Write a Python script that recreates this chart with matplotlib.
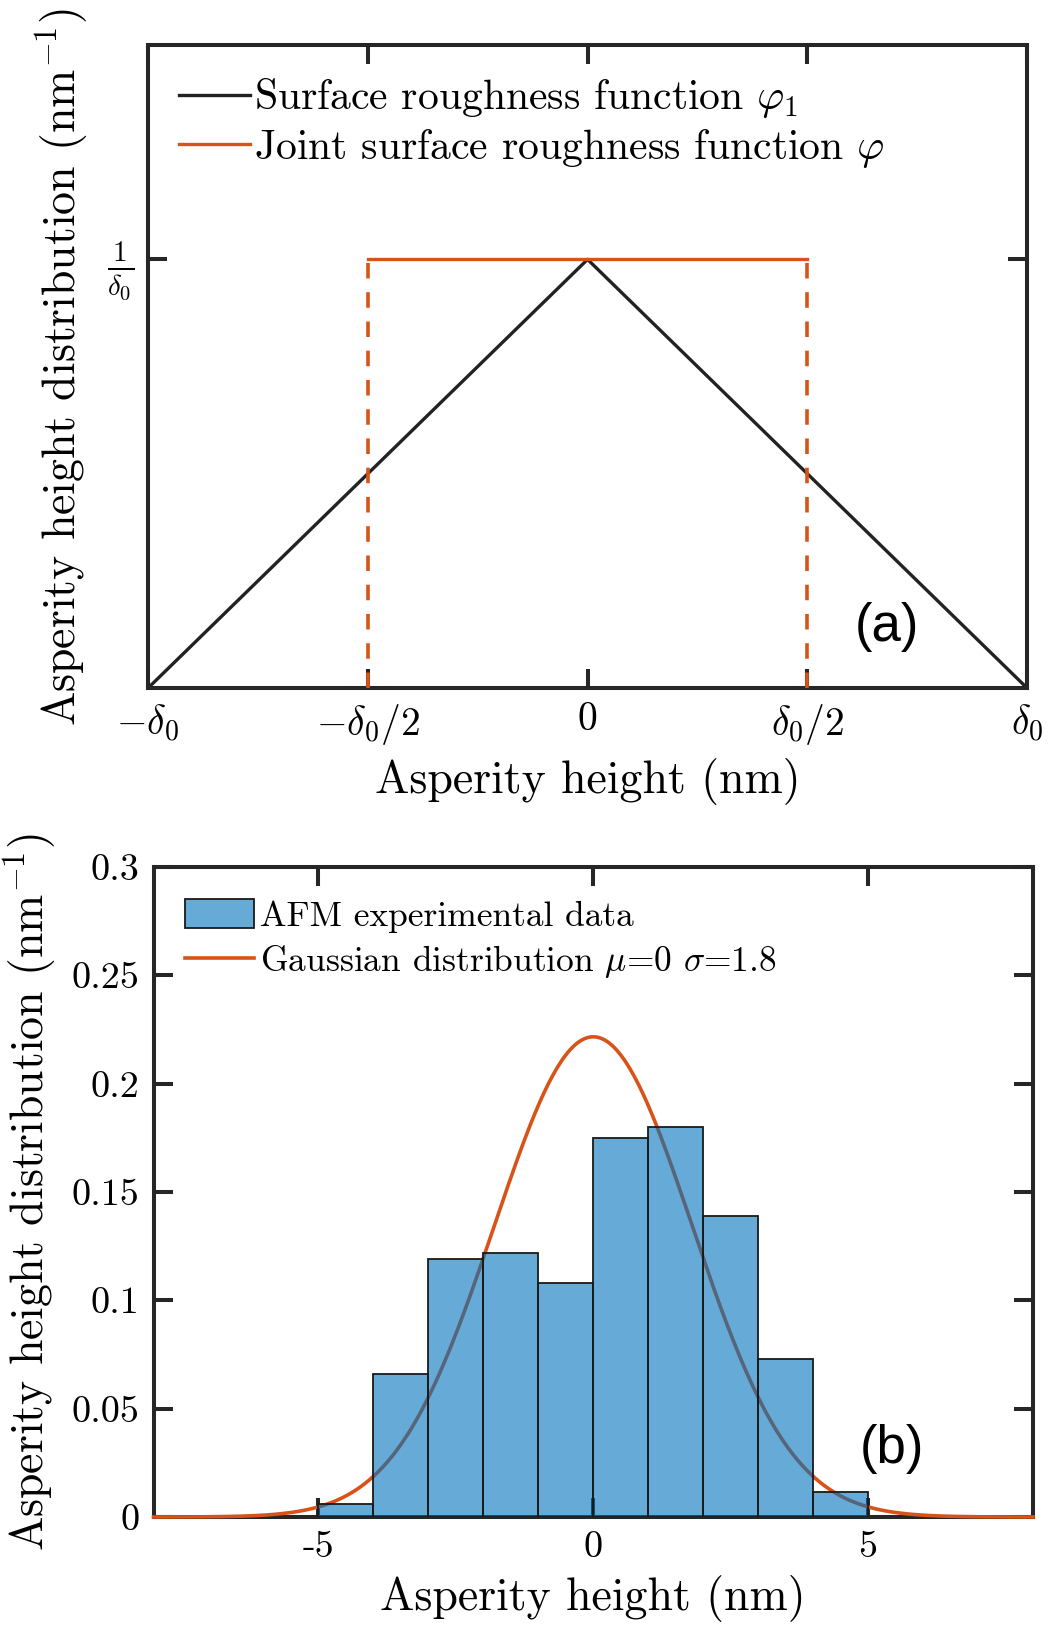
import numpy as np
import matplotlib
matplotlib.use("Agg")
import matplotlib.pyplot as plt

# panel (a): roughness functions, x in units of delta_0, y in units of 1/delta_0
tri_x = [-1.0, 0.0, 1.0]
tri_y = [0.0, 1.0, 0.0]
joint_x = [-0.5, 0.5]
joint_top = 1.0
a_xticks = [-1.0, -0.5, 0.0, 0.5, 1.0]
a_xticklabels = [r'$-\delta_0$', r'$-\delta_0/2$', '0', r'$\delta_0/2$', r'$\delta_0$']

# panel (b): AFM histogram + gaussian fit
bin_edges = [-5, -4, -3, -2, -1, 0, 1, 2, 3, 4, 5]
bin_heights = [0.006, 0.066, 0.119, 0.122, 0.108, 0.175, 0.180, 0.139, 0.073, 0.0115]
MU = 0.0
SIGMA = 1.8
b_xticks = [-5, 0, 5]
b_yticks = [0, 0.05, 0.1, 0.15, 0.2, 0.25, 0.3]
b_yticklabels = ['0', '0.05', '0.1', '0.15', '0.2', '0.25', '0.3']

ORANGE = (0.85, 0.325, 0.098)
BLUE = (0.0, 0.447, 0.741)

plt.rcParams['font.family'] = 'serif'
plt.rcParams['font.serif'] = ['cmr10']
plt.rcParams['mathtext.fontset'] = 'cm'
plt.rcParams['axes.unicode_minus'] = False
plt.rcParams['axes.formatter.use_mathtext'] = True

fig = plt.figure(figsize=(10.53, 16.27), dpi=100)
ax1 = fig.add_axes([0.1406, 0.5771, 0.8348, 0.3952])
ax2 = fig.add_axes([0.1458, 0.0676, 0.8352, 0.3995])

def style_axes(ax, spine_z=5, lsize=27):
    for s in ax.spines.values():
        s.set_linewidth(2.9)
        s.set_color('#262626')
        s.set_zorder(spine_z)
    ax.tick_params(direction='in', length=14, width=2.9, top=True, right=True,
                   labelsize=lsize, color='#262626', pad=10)

# ---- (a)
ax1.plot(tri_x, tri_y, color='#222222', lw=2.4, label=r'Surface roughness function $\varphi_1$', zorder=3)
ax1.plot(joint_x, [joint_top, joint_top], color=ORANGE, lw=2.4,
         label=r'Joint surface roughness function $\varphi$', zorder=3)
for xv in joint_x:
    ax1.plot([xv, xv], [0, joint_top], color=ORANGE, lw=2.6, ls=(0, (4.3, 3.8)), zorder=6,
             clip_on=False)
ax1.set_xlim(-1, 1)
ax1.set_ylim(0, 1.5)
ax1.set_xticks(a_xticks)
ax1.set_xticklabels(a_xticklabels)
ax1.set_yticks([1.0])
style_axes(ax1, lsize=28.5)
ax1.set_yticklabels([r'$\frac{1}{\delta_0}$'], fontsize=30)
ax1.set_xlabel('Asperity height (nm)', fontsize=33, labelpad=8)
ax1.set_ylabel(r'Asperity height distribution (nm$^{-1}$)', fontsize=33, labelpad=12)
ax1.legend(loc='upper left', frameon=False, fontsize=30, handlelength=1.7,
           handletextpad=0.1, labelspacing=0.15, borderaxespad=0.35)
ax1.text(0.84, 0.095, '(a)', transform=ax1.transAxes, fontsize=38,
         family='Liberation Sans', ha='center', va='center')

# ---- (b)
xs = np.linspace(-8, 8, 400)
gauss = np.exp(-0.5 * ((xs - MU) / SIGMA) ** 2) / (SIGMA * np.sqrt(2 * np.pi))
ax2.plot(xs, gauss, color=ORANGE, lw=2.6, zorder=2.6, clip_on=False,
         label=r'Gaussian distribution $\mu$=0 $\sigma$=1.8')
lefts = np.array(bin_edges[:-1])
widths = np.diff(bin_edges)
ax2.bar(lefts, bin_heights, width=widths, align='edge', color=BLUE, alpha=0.6,
        edgecolor='none', zorder=3, label='AFM experimental data')
ax2.bar(lefts, bin_heights, width=widths, align='edge', fill=False,
        edgecolor='#1a1a1a', lw=1.3, zorder=4)
ax2.set_xlim(-8, 8)
ax2.set_ylim(0, 0.3)
ax2.set_xticks(b_xticks)
ax2.set_xticklabels(['-5', '0', '5'])
ax2.set_yticks(b_yticks)
ax2.set_yticklabels(b_yticklabels)
style_axes(ax2, spine_z=2.5, lsize=27.5)
ax2.set_xlabel('Asperity height (nm)', fontsize=33, labelpad=8)
ax2.set_ylabel(r'Asperity height distribution (nm$^{-1}$)', fontsize=33, labelpad=10)
h, l = ax2.get_legend_handles_labels()
leg = ax2.legend([h[1], h[0]], [l[1], l[0]], loc='upper left', frameon=False, fontsize=25.5,
                 handlelength=1.95, handleheight=0.88, handletextpad=0.15,
                 labelspacing=0.3, borderaxespad=0.5)
leg.legend_handles[0].set_edgecolor('#1a1a1a')
leg.legend_handles[0].set_alpha(1)
leg.legend_handles[0].set_facecolor((0.4, 0.668, 0.845))
leg.legend_handles[0].set_linewidth(1.3)
ax2.text(0.84, 0.105, '(b)', transform=ax2.transAxes, fontsize=38,
         family='Liberation Sans', ha='center', va='center')

fig.savefig('out.png', dpi=100)
